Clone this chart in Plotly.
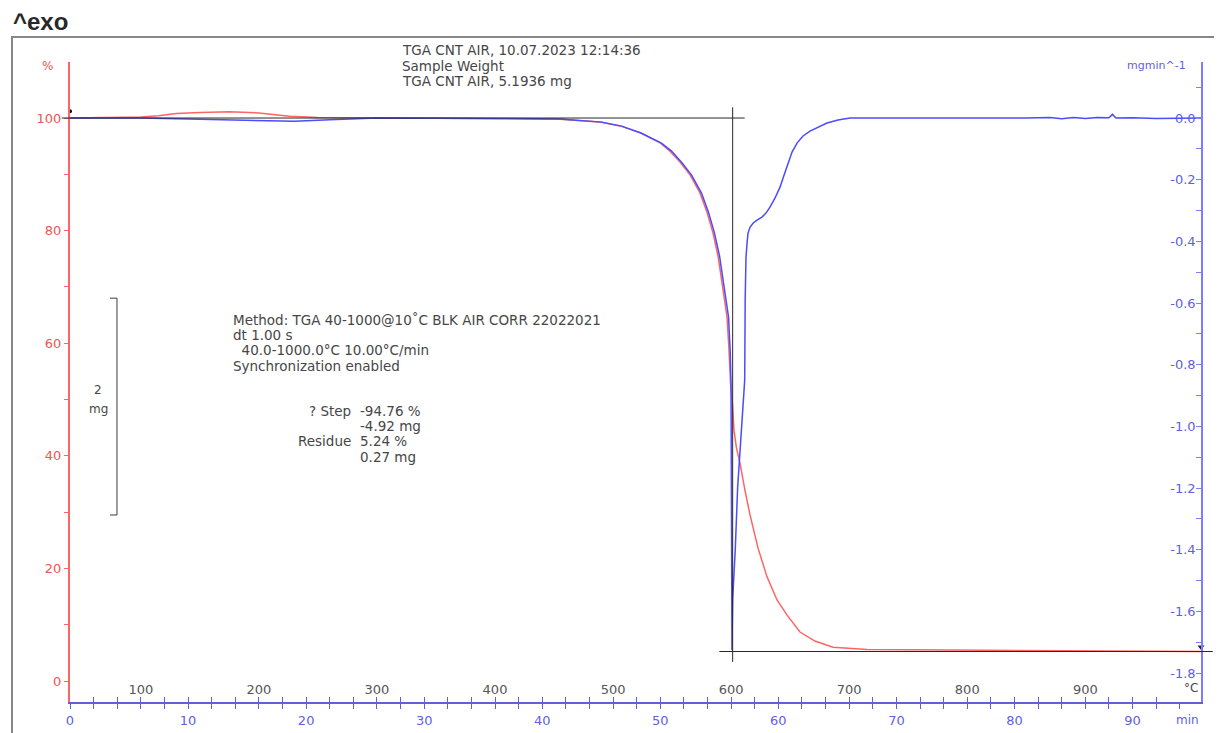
import plotly.graph_objects as go

# ---------------- data ----------------
T_MIN = 40.0          # start temperature, °C
T_MAX = 998.0         # axis end temperature, °C
RATE = 10.0           # heating rate, °C/min

tga_temp = [40, 70, 100, 115, 130, 150, 175, 200, 215, 226, 250, 300, 350, 404, 455,
            488.9, 505.9, 522.8, 539.7, 548.2, 556.7, 565.2, 573.6, 579.5, 584.6, 588.9,
            592.3, 594.8, 596.5, 598.2, 599.5, 601.2, 602.4, 604.5, 607.5, 611.7, 616.0,
            622.8, 630.4, 638.9, 647.4, 658.3, 671.0, 686.3, 715.1, 785, 850, 900, 950, 998]
tga_pct = [100.0, 100.05, 100.2, 100.4, 100.8, 101.0, 101.1, 100.9, 100.6, 100.3, 100.1,
           100.0, 100.0, 99.9, 99.8, 99.3, 98.6, 97.4, 95.6, 94.1, 92.2, 89.9, 86.7, 83.3,
           79.6, 75.5, 70.7, 67.7, 64.7, 58.8, 52.9, 49.0, 44.6, 41.4, 38.7, 33.9, 29.5,
           23.6, 18.5, 14.4, 11.7, 8.7, 7.1, 6.0, 5.6, 5.5, 5.4, 5.35, 5.3, 5.24]

dtg_temp = [40, 100, 150, 200, 230, 260, 300, 404, 455, 490.2, 507.2, 524.1, 541.0, 549.5,
            558.0, 566.5, 574.9, 580.8, 585.9, 590.2, 593.6, 596.1, 597.8, 599.2, 599.9,
            600.3, 600.7, 601.3, 603.5, 605.5, 609.0, 611.5, 611.9, 612.6, 613.5, 614.3,
            616.0, 618.5, 621.9, 626.1, 629.5, 632.9, 637.2, 641.4, 644.8, 648.2, 651.6,
            655.8, 660.9, 666.8, 673.6, 681.2, 690.5, 700.7, 850, 870, 880, 890, 900, 910,
            920, 923, 926, 940, 960, 998]
dtg_val = [0.0, 0.0, -0.004, -0.009, -0.010, -0.005, 0.0, -0.001, -0.003, -0.013, -0.026,
           -0.049, -0.081, -0.107, -0.143, -0.185, -0.243, -0.305, -0.373, -0.448, -0.535,
           -0.590, -0.645, -0.753, -0.86, -1.24, -1.726, -1.56, -1.40, -1.20, -0.98, -0.85,
           -0.59, -0.451, -0.405, -0.373, -0.354, -0.341, -0.331, -0.321, -0.308, -0.289,
           -0.259, -0.224, -0.185, -0.146, -0.110, -0.081, -0.058, -0.042, -0.029, -0.016,
           -0.006, 0.0, 0.0, 0.002, -0.002, 0.002, -0.001, 0.002, 0.001, 0.012, 0.0, 0.001,
           -0.001, 0.0]

pct_ticks = [0, 20, 40, 60, 80, 100]
dtg_ticks = [-1.8, -1.6, -1.4, -1.2, -1.0, -0.8, -0.6, -0.4, -0.2, 0.0]
temp_ticks = [100, 200, 300, 400, 500, 600, 700, 800, 900]
time_ticks = [0, 10, 20, 30, 40, 50, 60, 70, 80, 90]

# step evaluation
step_temp = 601.3
step_top = 100.0
residue_pct = 5.24
sample_mass_mg = 5.1936
scale_bar_mg = 2.0

header_lines = ["TGA CNT AIR, 10.07.2023 12:14:36", "Sample Weight", "TGA CNT AIR, 5.1936 mg"]
method_lines = ["Method: TGA 40-1000@10˚C BLK AIR CORR 22022021", "dt 1.00 s",
                "\u00a0\u00a040.0-1000.0°C 10.00°C/min", "Synchronization enabled"]
step_labels = ["? Step", "", "Residue", ""]
step_values = ["-94.76 %", "-4.92 mg", "5.24 %", "0.27 mg"]

# ---------------- figure ----------------
RED = "rgb(255,100,100)"
RED_TXT = "rgb(235,85,85)"
BLUE = "rgb(75,75,255)"
BLUE_AX = "rgb(125,125,255)"
BLUE_TXT = "rgb(95,95,225)"
XAX = "rgb(95,95,215)"
TXT = "rgb(70,70,70)"
FONT = "DejaVu Sans"
FS = 13
FS_TXT = 13.5

# plot area in page pixels (page has an 8 px body margin)
PX_L, PX_R, PX_T, PX_B = 70, 1201, 62, 702

time_max = (T_MAX - T_MIN) / RATE


def tdom(t):
    return (t - T_MIN) / (T_MAX - T_MIN)


def px(xp):
    return (xp - PX_L) / (PX_R - PX_L)


def py(yp):
    return (PX_B - yp) / (PX_B - PX_T)


fig = go.Figure()
fig.add_trace(go.Scatter(x=tga_temp, y=tga_pct, xaxis="x2", yaxis="y", mode="lines",
                         line=dict(color=RED, width=1.5), showlegend=False))
fig.add_trace(go.Scatter(x=dtg_temp, y=dtg_val, xaxis="x2", yaxis="y2", mode="lines",
                         line=dict(color=BLUE, width=1.5), showlegend=False))
# start / end markers
fig.add_trace(go.Scatter(x=[tga_temp[0]], y=[tga_pct[0] + 1.2], xaxis="x2", yaxis="y",
                         mode="markers", marker=dict(color="black", size=4),
                         cliponaxis=False, showlegend=False))
fig.add_trace(go.Scatter(x=[T_MAX], y=[residue_pct + 0.8], xaxis="x2", yaxis="y",
                         mode="markers", marker=dict(color="rgb(30,30,80)", size=6,
                                                     symbol="triangle-down"),
                         cliponaxis=False, showlegend=False))
# invisible trace on the time axis
fig.add_trace(go.Scatter(x=[0, time_max], y=[None, None], xaxis="x", yaxis="y",
                         mode="lines", showlegend=False, hoverinfo="skip"))

# evaluation lines
black = dict(color="rgb(40,40,40)", width=1)
fig.add_shape(type="line", xref="x2 domain", yref="y", x0=tdom(33), x1=tdom(611.5),
              y0=step_top, y1=step_top, line=black)
fig.add_shape(type="line", xref="x2", yref="y", x0=step_temp, x1=step_temp,
              y0=101.9, y1=3.4, line=black)
fig.add_shape(type="line", xref="x2 domain", yref="y", x0=tdom(590), x1=tdom(1008),
              y0=residue_pct, y1=residue_pct, line=black)

# scale bar (2 mg)
bar_pct = scale_bar_mg / sample_mass_mg * 100
bar_top = 68.0
bar_bot = bar_top - bar_pct
bx, btick = 79.8, 73.9
fig.add_shape(type="path", xref="x2", yref="y",
              path=f"M {btick},{bar_top} L {bx},{bar_top} L {bx},{bar_bot} L {btick},{bar_bot}",
              line=dict(color="rgb(60,60,60)", width=1))

# outer frame
fig.add_shape(type="rect", xref="paper", yref="paper", x0=px(12), x1=px(1217),
              y0=py(760), y1=py(37), line=dict(color="rgb(135,135,135)", width=2))

fig.add_annotation(xref="paper", yref="paper", x=px(11), y=py(21), xanchor="left",
                   yanchor="middle", text="<b>^exo</b>", showarrow=False,
                   font=dict(family="Liberation Sans", size=24, color="rgb(40,40,40)"))


def text_line(txt, xp, yp, anchor="left", color=TXT, size=FS_TXT):
    fig.add_annotation(xref="paper", yref="paper", x=px(xp), y=py(yp), xanchor=anchor,
                       yanchor="middle", text=txt, showarrow=False,
                       font=dict(family=FONT, size=size, color=color))


text_line("2", 98, 390, anchor="center", size=FS - 1)
text_line("mg", 98, 409, anchor="center", size=FS - 1)

for i, line in enumerate(header_lines):
    text_line(line, 400, 50 + 15.5 * i)
for i, line in enumerate(method_lines):
    text_line(line, 231, 320 + 15.2 * i)
for i, (lab, val) in enumerate(zip(step_labels, step_values)):
    if lab:
        text_line(lab, 353, 411 + 15.2 * i, anchor="right")
    text_line(val, 358, 411 + 15.2 * i)

# axis unit labels
text_line("%", 47, 66, anchor="center", color=RED_TXT, size=FS - 1)
text_line("mgmin^-1", 1188, 66, anchor="right", color=BLUE_TXT, size=11)
text_line("°C", 1200, 688, anchor="right", color=TXT, size=FS - 1)
text_line("min", 1201, 720, anchor="right", color=BLUE_TXT, size=FS - 1)

fig.update_layout(
    width=1214, height=725,
    margin=dict(l=62, r=21, t=54, b=31, autoexpand=False),
    paper_bgcolor="white", plot_bgcolor="white",
    showlegend=False,
    font=dict(family=FONT, size=FS),
    xaxis=dict(range=[0, time_max], tickvals=time_ticks,
               ticktext=[str(v) for v in time_ticks], automargin=False,
               showline=True, linecolor=XAX, linewidth=1.5,
               ticks="outside", ticklen=5, tickcolor=XAX, tickwidth=1,
               minor=dict(dtick=2, ticks="outside", ticklen=5, tickcolor=XAX),
               ticklabelstandoff=1,
               showgrid=False, zeroline=False,
               tickfont=dict(family=FONT, size=FS, color=BLUE_TXT)),
    xaxis2=dict(range=[T_MIN, T_MAX], overlaying="x", side="bottom", anchor="y",
                tickvals=temp_ticks, ticktext=[str(v) for v in temp_ticks],
                automargin=False,
                ticks="inside", ticklen=5, tickcolor=XAX,
                minor=dict(dtick=20, ticks="inside", ticklen=5, tickcolor=XAX),
                ticklabelposition="inside", showline=False, showgrid=False, zeroline=False,
                tickfont=dict(family=FONT, size=FS, color="rgb(85,85,85)")),
    yaxis=dict(range=[-3.73, 109.95], tickvals=pct_ticks,
               ticktext=[str(v) for v in pct_ticks], automargin=False,
               showline=True, linecolor=RED, linewidth=2,
               ticks="outside", ticklen=4, tickcolor=RED,
               minor=dict(dtick=10, ticks="outside", ticklen=4, tickcolor=RED),
               showgrid=False, zeroline=False,
               tickfont=dict(family=FONT, size=FS, color=RED_TXT)),
    yaxis2=dict(range=[-1.894, 0.182], overlaying="y", side="right", anchor="x",
                tickvals=dtg_ticks, ticktext=[f"{v:.1f}" for v in dtg_ticks],
                automargin=False,
                showline=True, linecolor=BLUE_AX, linewidth=2,
                ticks="inside", ticklen=5, tickcolor=BLUE_AX,
                minor=dict(dtick=0.1, ticks="inside", ticklen=5, tickcolor=BLUE_AX),
                ticklabelposition="inside", showgrid=False, zeroline=False,
                tickfont=dict(family=FONT, size=FS, color=BLUE_TXT)),
)

fig.write_html("out.html")
